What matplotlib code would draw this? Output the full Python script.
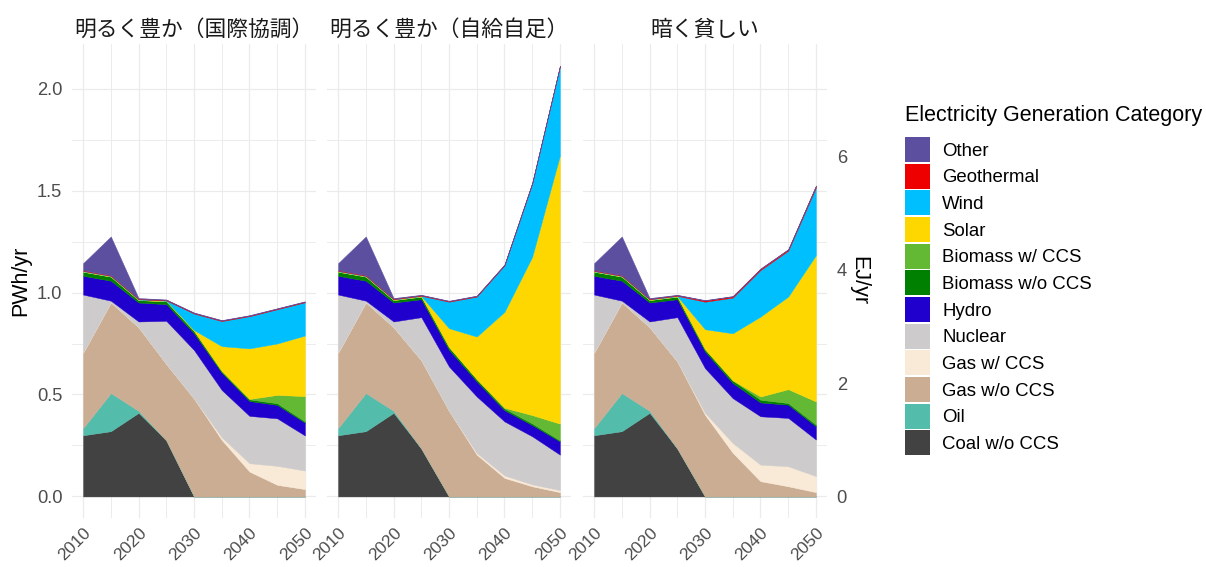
import matplotlib
matplotlib.use("Agg")
import matplotlib.pyplot as plt
from matplotlib.patches import Patch
from matplotlib.ticker import MultipleLocator, FixedLocator
import numpy as np

plt.rcParams['font.family'] = ['Liberation Sans', 'Noto Sans CJK JP', 'DejaVu Sans']

# ---------------- data (PWh/yr) ----------------
years = [2010, 2015, 2020, 2025, 2030, 2035, 2040, 2045, 2050]
scenarios = ["明るく豊か（国際協調）", "明るく豊か（自給自足）", "暗く貧しい"]

categories = ["Coal w/o CCS", "Oil", "Gas w/o CCS", "Gas w/ CCS", "Nuclear", "Hydro",
              "Biomass w/o CCS", "Biomass w/ CCS", "Solar", "Wind", "Geothermal", "Other"]
colors = ["#424242", "#53BCAB", "#CBAD93", "#F9E9D7", "#CDCBCB", "#2000CC",
          "#008000", "#63B834", "#FFD700", "#00BFFF", "#EE0000", "#5C4FA0"]

# each list: [国際協調, 自給自足, 暗く貧しい]
coal = [[0.30, 0.32, 0.41, 0.275, 0, 0, 0, 0, 0],
        [0.30, 0.32, 0.41, 0.235, 0, 0, 0, 0, 0],
        [0.30, 0.32, 0.41, 0.235, 0, 0, 0, 0, 0]]
oil = [[0.035, 0.187, 0.01, 0, 0, 0, 0, 0, 0],
       [0.035, 0.187, 0.01, 0, 0, 0, 0, 0, 0],
       [0.035, 0.187, 0.01, 0, 0, 0, 0, 0, 0]]
gas_wo_ccs = [[0.37, 0.445, 0.41, 0.375, 0.48, 0.277, 0.122, 0.057, 0.036],
              [0.37, 0.445, 0.41, 0.433, 0.42, 0.205, 0.091, 0.05, 0.021],
              [0.37, 0.445, 0.41, 0.427, 0.40, 0.214, 0.075, 0.05, 0.021]]
gas_w_ccs = [[0, 0, 0, 0, 0, 0.013, 0.041, 0.093, 0.091],
             [0, 0, 0, 0, 0, 0.008, 0.012, 0.009, 0.010],
             [0, 0, 0, 0, 0.01, 0.048, 0.081, 0.098, 0.079]]
nuclear = [[0.285, 0.008, 0.028, 0.211, 0.238, 0.232, 0.232, 0.233, 0.172],
           [0.285, 0.008, 0.028, 0.211, 0.217, 0.277, 0.265, 0.236, 0.174],
           [0.285, 0.008, 0.028, 0.217, 0.219, 0.220, 0.237, 0.237, 0.179]]
hydro = [[0.092, 0.098, 0.093, 0.082, 0.082, 0.085, 0.073, 0.066, 0.063],
         [0.092, 0.098, 0.093, 0.088, 0.082, 0.074, 0.055, 0.055, 0.065],
         [0.092, 0.098, 0.093, 0.088, 0.082, 0.074, 0.068, 0.065, 0.065]]
biomass_wo_ccs = [[0.02, 0.02, 0.012, 0.014, 0.012, 0.008, 0.008, 0.008, 0.006],
                  [0.02, 0.02, 0.012, 0.013, 0.013, 0.011, 0.008, 0.008, 0.005],
                  [0.02, 0.02, 0.012, 0.013, 0.011, 0.013, 0.013, 0.008, 0.008]]
biomass_w_ccs = [[0, 0, 0, 0, 0, 0, 0.002, 0.041, 0.124],
                 [0, 0, 0, 0, 0, 0, 0.004, 0.041, 0.082],
                 [0, 0, 0, 0, 0, 0, 0.016, 0.068, 0.114]]
solar = [[0.002, 0.002, 0.002, 0.002, 0.004, 0.122, 0.248, 0.252, 0.297],
         [0.002, 0.002, 0.002, 0.002, 0.093, 0.209, 0.470, 0.776, 1.315],
         [0.002, 0.002, 0.002, 0.002, 0.098, 0.231, 0.392, 0.454, 0.717]]
wind = [[0.002, 0.002, 0.002, 0.002, 0.081, 0.123, 0.158, 0.168, 0.163],
        [0.002, 0.002, 0.002, 0.002, 0.130, 0.196, 0.228, 0.359, 0.436],
        [0.002, 0.002, 0.002, 0.002, 0.135, 0.175, 0.228, 0.225, 0.332]]
geothermal = [[0.003, 0.003, 0.003, 0.003, 0.003, 0.003, 0.003, 0.003, 0.003],
              [0.003, 0.003, 0.003, 0.003, 0.003, 0.003, 0.003, 0.003, 0.003],
              [0.003, 0.003, 0.003, 0.003, 0.006, 0.006, 0.006, 0.006, 0.008]]
other = [[0.035, 0.19, 0.003, 0.002, 0.002, 0.002, 0.002, 0.002, 0.002],
         [0.035, 0.19, 0.003, 0.002, 0.002, 0.002, 0.002, 0.002, 0.002],
         [0.035, 0.19, 0.003, 0.002, 0.002, 0.002, 0.002, 0.002, 0.002]]

series = [coal, oil, gas_wo_ccs, gas_w_ccs, nuclear, hydro,
          biomass_wo_ccs, biomass_w_ccs, solar, wind, geothermal, other]

PWH_TO_EJ = 3.6

# ---------------- figure ----------------
W, H = 1206, 567
fig = plt.figure(figsize=(W / 100, H / 100), dpi=100)
fig.patch.set_facecolor("white")

panel_left = [72, 327, 583]
panel_w = 244
panel_top, panel_bottom = 44, 518

ymax = max(np.sum([s[i] for s in series], axis=0).max() for i in range(3))
ylim = (-0.05 * ymax, 1.05 * ymax)
xlim = (2010 - 0.05 * 40, 2050 + 0.05 * 40)

tick_color = "#4D4D4D"
grid_color = "#EBEBEB"
tick_size = 13.2
axes = []
for i, name in enumerate(scenarios):
    ax = fig.add_axes([panel_left[i] / W, 1 - panel_bottom / H,
                       panel_w / W, (panel_bottom - panel_top) / H])
    axes.append(ax)
    ax.stackplot(years, *[s[i] for s in series], colors=colors,
                 linewidth=0.3, zorder=2)
    for coll, c in zip(ax.collections, colors):
        coll.set_edgecolor(c)
    ax.set_xlim(*xlim)
    ax.set_ylim(*ylim)
    ax.xaxis.set_major_locator(FixedLocator([2010, 2020, 2030, 2040, 2050]))
    ax.xaxis.set_minor_locator(MultipleLocator(5))
    ax.yaxis.set_major_locator(FixedLocator([0.0, 0.5, 1.0, 1.5, 2.0]))
    ax.yaxis.set_minor_locator(MultipleLocator(0.25))
    ax.grid(which="major", color=grid_color, linewidth=0.9)
    ax.grid(which="minor", color=grid_color, linewidth=0.65)
    ax.set_axisbelow(True)
    for sp in ax.spines.values():
        sp.set_visible(False)
    ax.tick_params(which="both", length=0, labelsize=tick_size, labelcolor=tick_color)
    ax.tick_params(axis="y", pad=7)
    ax.tick_params(axis="x", pad=5, labelsize=12.6)
    for lab in ax.get_xticklabels():
        lab.set_rotation(45)
        lab.set_ha("right")
        lab.set_va("top")
        lab.set_rotation_mode("anchor")
    if i == 0:
        ax.set_yticklabels(["0.0", "0.5", "1.0", "1.5", "2.0"])
        ax.set_ylabel("PWh/yr", fontsize=15.5, color="black", labelpad=4)
    else:
        ax.set_yticklabels([])
    ax.set_title(name, fontsize=15.7, color="#1A1A1A", pad=6)

# secondary axis on the right panel
sec = axes[2].secondary_yaxis("right", functions=(lambda x: x * PWH_TO_EJ,
                                                   lambda x: x / PWH_TO_EJ))
sec.set_yticks([0, 2, 4, 6])
sec.tick_params(length=0, labelsize=tick_size, labelcolor=tick_color, pad=7)
for sp in sec.spines.values():
    sp.set_visible(False)
sec.set_ylabel("EJ/yr", fontsize=15.5, rotation=-90, labelpad=16)

# legend
fig.text(905 / W, 1 - 116 / H, "Electricity Generation Category",
         fontsize=15.5, ha="left", va="center", color="black")
handles = [Patch(facecolor=c, edgecolor="none") for c in colors[::-1]]
leg = fig.legend(handles, categories[::-1], loc="upper left",
                 bbox_to_anchor=(905 / W, 1 - 137 / H),
                 frameon=False, fontsize=13.4,
                 handlelength=1.34, handleheight=1.69,
                 labelspacing=0.09, handletextpad=0.65, borderpad=0, borderaxespad=0)

fig.savefig("out.png", dpi=100)
